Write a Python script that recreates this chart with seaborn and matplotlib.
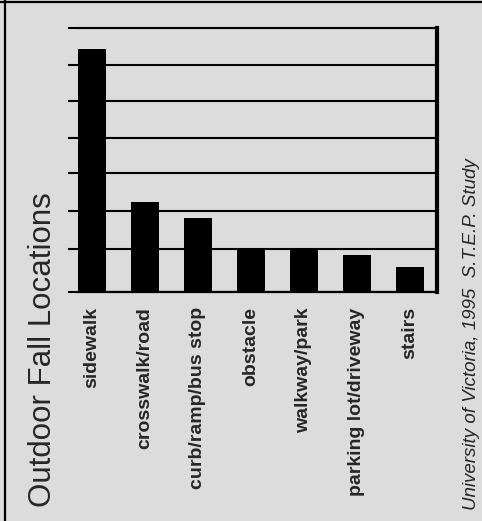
import matplotlib
matplotlib.use("Agg")
import matplotlib.pyplot as plt
import seaborn as sns
from matplotlib.lines import Line2D

# Daten (Einheiten = Gitterlinien, keine Beschriftung im Original)
locations = ['sidewalk', 'crosswalk/road', 'curb/ramp/bus stop', 'obstacle',
             'walkway/park', 'parking lot/driveway', 'stairs']
falls = [6.44, 2.39, 1.95, 1.14, 1.14, 0.98, 0.67]
grid_levels = [0, 1.14, 2.15, 3.16, 4.08, 5.07, 6.02, 7.0]

title = 'Outdoor Fall Locations'
source = 'University of Victoria, 1995  S.T.E.P. Study'

bg = '#dcdcdc'

sns.set_style('white')
plt.rcParams['font.family'] = ['Liberation Sans', 'DejaVu Sans']

fig = plt.figure(figsize=(4.82, 5.21), dpi=100, facecolor=bg)
ax = fig.add_axes([0.1618, 0.4395, 0.7448, 0.5068])
ax.set_facecolor(bg)

sns.barplot(x=locations, y=falls, color='black', width=0.53,
            saturation=1, edgecolor='none', ax=ax)

ax.set_xlim(-0.264, 6.51)
ax.set_ylim(0, 7.0)
ax.set_yticks(grid_levels)
ax.set_yticklabels([])
ax.set_xlabel('')
ax.set_ylabel('')

ax.set_axisbelow(True)
ax.yaxis.grid(True, color='black', linewidth=1.5)
ax.xaxis.grid(False)

ax.tick_params(axis='y', direction='out', length=7.5, width=1.5, color='black', left=True)
ax.tick_params(axis='x', length=0, pad=11)
for lbl in ax.get_xticklabels():
    lbl.set_rotation(90)
    lbl.set_fontsize(14)
    lbl.set_fontweight('bold')
    lbl.set_va('top')
    lbl.set_ha('center')

ax.spines['left'].set_visible(False)
ax.spines['top'].set_linewidth(1.5)
ax.spines['bottom'].set_linewidth(1.6)
ax.spines['right'].set_linewidth(3.0)
for s in ax.spines.values():
    s.set_color('black')

# Titel und Quelle, gedreht
fig.text(43 / 482, 1 - 350 / 521, title, rotation=90, ha='center', va='center',
         fontsize=22.5)
fig.text(471 / 482, 1 - 334 / 521, source, rotation=90, ha='center', va='center',
         fontsize=13.5, style='italic')

# Rahmen links und oben
fig.add_artist(Line2D([5 / 482, 5 / 482], [0, 1], color='black', linewidth=1.6,
                      transform=fig.transFigure))
fig.add_artist(Line2D([0, 1], [1 - 1.5 / 521, 1 - 1.5 / 521], color='black', linewidth=1.6,
                      transform=fig.transFigure))

fig.savefig('out.png', dpi=100, facecolor=bg)
